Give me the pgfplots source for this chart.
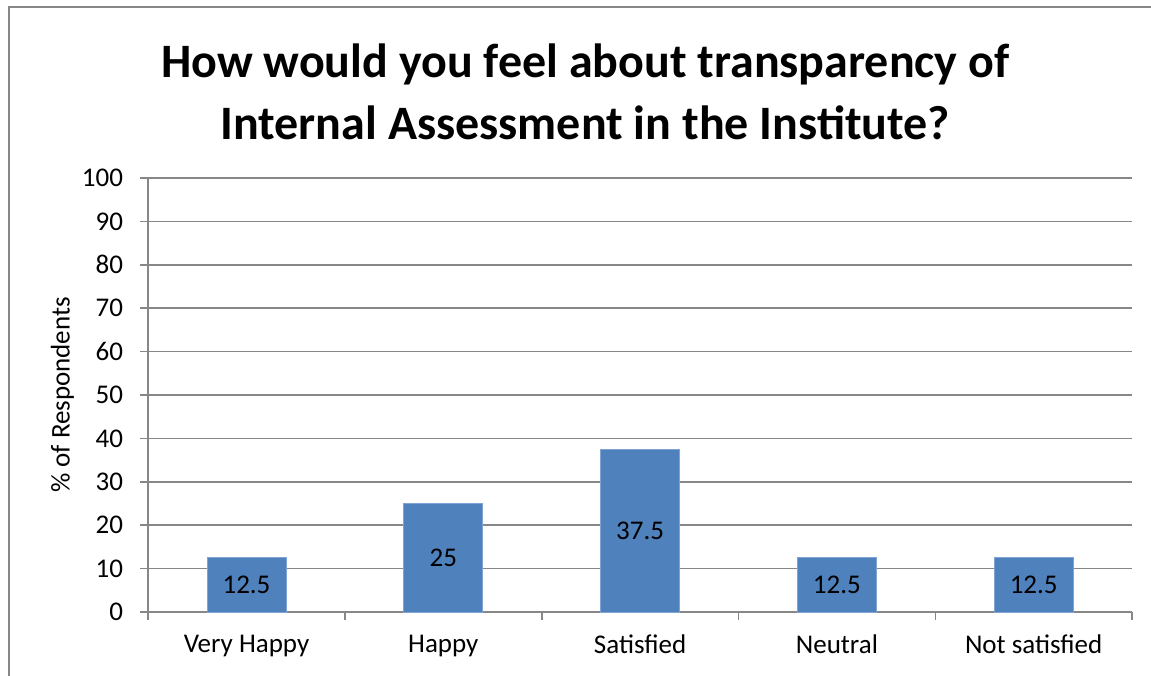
\documentclass[border=0pt]{standalone}
\usepackage{fontspec}
\setmainfont{Carlito}
\usepackage{pgfplots}
\pgfplotsset{compat=1.18}
\definecolor{barblue}{HTML}{4F81BD}
\definecolor{baredge}{HTML}{7FA3D3}
\definecolor{gridgray}{HTML}{878787}
\begin{document}
\begin{tikzpicture}
\draw[gridgray, line width=0.9pt] (4.5pt,-20pt) -- (4.5pt,334pt) -- (600pt,334pt);
\node[align=center, font=\fontsize{24}{31}\selectfont\bfseries] at (292.6pt,291.5pt)
  {How would you feel about transparency of\\Internal Assessment in the Institute?};
\begin{axis}[
  at={(123.25pt,31.5pt)}, anchor=origin,
  scale only axis, width=492pt, height=217pt,
  xmin=-0.5, xmax=4.5, ymin=0, ymax=100,
  axis x line=bottom, axis y line=left,
  axis line style={-, gridgray, line width=0.8pt},
  ybar, bar width=39.5pt,
  xtick={0,1,2,3,4},
  xticklabels={Very Happy, Happy, Satisfied, Neutral, Not satisfied},
  minor xtick={-0.5,0.5,1.5,2.5,3.5,4.5},
  x tick style={draw=none},
  minor x tick style={draw=gridgray, line width=0.8pt},
  minor tick length=4pt,
  ytick={0,10,...,100},
  y tick style={gridgray, line width=0.8pt},
  major tick length=4pt,
  tick align=outside,
  ymajorgrids,
  grid style={gridgray, line width=0.8pt},
  ticklabel style={font=\fontsize{13.5}{15}\selectfont},
  /pgf/number format/assume math mode=true,
  xticklabel style={yshift=-4pt},
  yticklabel style={xshift=-5pt},
  ylabel={\% of Respondents},
  ylabel style={at={(axis description cs:-0.087,0.5)}, anchor=center, font=\fontsize{13.5}{15}\selectfont},
  visualization depends on=y \as \rawy,
  nodes near coords,
  every node near coord/.append style={anchor=center, yshift={-1.085*\rawy}, font=\fontsize{13.5}{15}\selectfont, black},
]
\addplot[fill=barblue, draw=baredge, line width=0.5pt] coordinates {(0,12.5) (1,25) (2,37.5) (3,12.5) (4,12.5)};
\end{axis}
\pgfresetboundingbox
\path[use as bounding box] (0pt,0pt) rectangle (575.5pt,337.5pt);
\end{tikzpicture}
\end{document}
